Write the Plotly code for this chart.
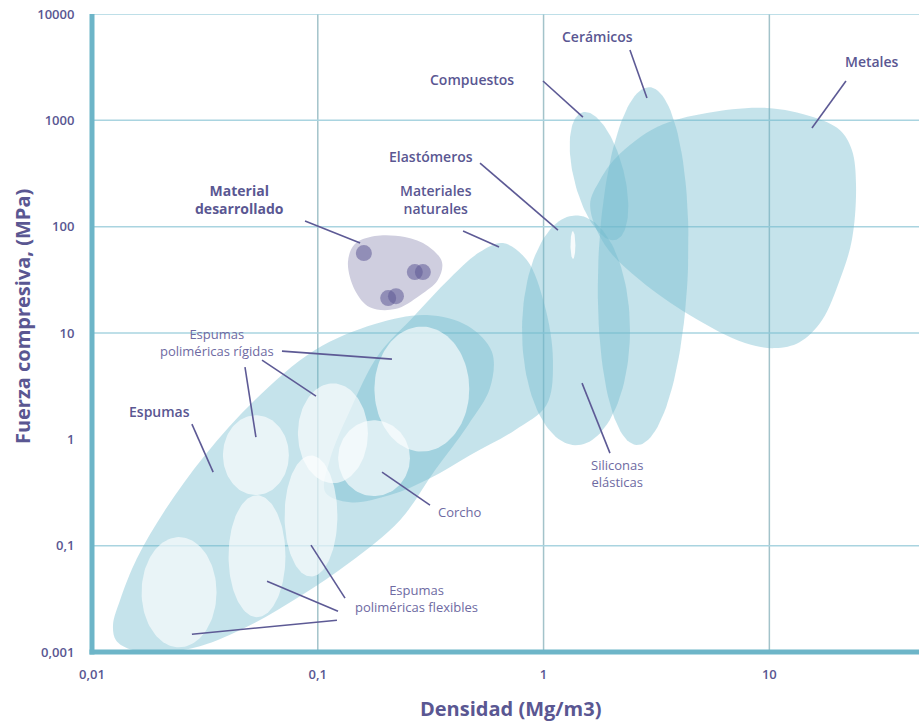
import numpy as np
import plotly.graph_objects as go

# ---------------- axes ----------------
X_RANGE = [0.01, 46]
Y_RANGE = [0.01, 10000]
x_tickvals = [0.01, 0.1, 1, 10]
x_ticktext = ["0,01", "0,1", "1", "10"]
y_tickvals = [0.01, 0.1, 1, 10, 100, 1000, 10000]
y_ticktext = ["0,001", "0,1", "1", "10", "100", "1000", "10000"]
x_grid = [0.1, 1, 10]
y_grid = [0.1, 10, 100, 1000, 10000]

# ---------------- material families drawn as ellipses ----------------
# centre density (Mg/m3), centre strength (MPa), semi-axes (decades), tilt (deg)
fam_names = ["Elastómeros", "Cerámicos", "Compuestos"]
fam_dens = [1.392, 2.76, 1.76]
fam_str = [10.6, 42.6, 299]
fam_a = [0.239, 0.199, 0.111]
fam_b = [0.509, 0.793, 0.292]
fam_ang = [0, -2, 14.4]

# sub-groups (foams, cork) shown as pale ellipses
sub_names = ["flex1", "flex2", "flex3", "rig1", "rig2", "rig3", "Corcho", "elast"]
sub_dens = [0.0243, 0.0538, 0.0933, 0.0532, 0.1167, 0.289, 0.1775, 1.349]
sub_str = [0.0365, 0.0796, 0.190, 0.710, 1.14, 2.97, 0.665, 67.1]
sub_a = [0.166, 0.126, 0.117, 0.146, 0.155, 0.210, 0.159, 0.011]
sub_b = [0.244, 0.270, 0.268, 0.177, 0.221, 0.277, 0.168, 0.062]

# ---------------- irregular envelopes ----------------
foam_dens = [0.01239, 0.01331, 0.01582, 0.02105, 0.03165, 0.05270, 0.09718, 0.1792,
             0.3046, 0.4626, 0.5909, 0.5789, 0.4626, 0.3304, 0.2312, 0.1389, 0.08342,
             0.05008, 0.03008, 0.02001, 0.01473, 0.01277]
foam_str = [0.01786, 0.03071, 0.07627, 0.2158, 0.7101, 2.338, 6.902, 12.13,
            14.74, 11.61, 6.611, 3.032, 1.360, 0.5131, 0.1738, 0.06995, 0.03348,
            0.01786, 0.01134, 0.009957, 0.01062, 0.01291]

nat_dens = [0.661, 0.843, 1.01, 1.10, 1.03, 0.746, 0.472, 0.314, 0.209, 0.139,
            0.108, 0.113, 0.139, 0.185, 0.264, 0.385, 0.522]
nat_str = [70.1, 48.5, 18.3, 5.56, 2.10, 1.22, 0.710, 0.431, 0.299, 0.256,
           0.318, 0.637, 1.88, 6.19, 14.1, 32.8, 57.7]

met_dens = [1.607, 1.778, 2.11, 3.18, 5.29, 9.75, 15.6, 20.5, 23.2, 24.2,
            23.2, 20.5, 17.1, 13.6, 10.6, 7.80, 4.45, 2.67, 1.87]
met_str = [160, 274, 452, 865, 1172, 1306, 1074, 811, 526, 246,
           74.8, 31.5, 13.2, 8.20, 7.21, 8.04, 14.7, 31.5, 67.1]

dev_dens = [0.136, 0.146, 0.179, 0.243, 0.308, 0.355, 0.340, 0.284, 0.220, 0.170, 0.146]
dev_str = [46.4, 68.6, 81.6, 79.8, 65.6, 46.4, 31.5, 22.7, 16.8, 17.5, 25.3]

# developed-material samples
sample_dens = [0.160, 0.269, 0.292, 0.205, 0.222]
sample_str = [56.4, 37.4, 37.4, 21.3, 22.2]

# ---------------- labels ----------------
bold_labels = ["Material<br>desarrollado", "Materiales<br>naturales", "Elastómeros",
               "Compuestos", "Cerámicos", "Metales", "Espumas"]
bold_weight = [700, 600, 600, 600, 600, 600, 600]
bold_dens = [0.0448, 0.334, 0.317, 0.482, 1.74, 28.5, 0.0200]
bold_str = [180, 180, 461, 2446, 6078, 3611, 1.84]

light_labels = ["Espumas<br>poliméricas rígidas", "Corcho", "Siliconas<br>elásticas",
                "Espumas<br>poliméricas flexibles"]
light_dens = [0.0358, 0.427, 2.11, 0.275]
light_str = [8.21, 0.207, 0.481, 0.0321]

# leader lines: start / end
lead_x0 = [0.0878, 0.440, 0.523, 0.994, 2.413, 21.84, 0.0277, 0.0694, 0.0566, 0.0476,
           0.1925, 1.480, 0.132, 0.1229, 0.1216]
lead_y0 = [112.9, 90.9, 396.6, 2342, 4584, 2342, 1.390, 6.754, 5.560, 4.777,
           0.4913, 3.379, 0.0321, 0.0242, 0.0199]
lead_x1 = [0.154, 0.635, 1.158, 1.494, 2.870, 15.44, 0.0344, 0.213, 0.0982, 0.0532,
           0.314, 1.968, 0.0933, 0.0596, 0.0277]
lead_y1 = [70.1, 64.3, 92.9, 1074, 1621, 846.5, 0.491, 5.681, 2.549, 1.049,
           0.2404, 0.7417, 0.1011, 0.0463, 0.0147]

# ---------------- styling ----------------
W, H = 919, 722
MARGIN = dict(l=92, r=0, t=14, b=70)
FONT = "Open Sans"
TXT = "#5a5792"
TXT_LIGHT = "#6e6aa2"
TEAL = "rgba(110,185,205,0.40)"
PALE = "rgba(255,255,255,0.62)"
AXIS = "#6db5c8"

xr = [np.log10(v) for v in X_RANGE]
yr = [np.log10(v) for v in Y_RANGE]
px_dec_x = (W - MARGIN["l"] - MARGIN["r"]) / (xr[1] - xr[0])
px_dec_y = (H - MARGIN["t"] - MARGIN["b"]) / (yr[1] - yr[0])
ASPECT = px_dec_x / px_dec_y


def ellipse(cx, cy, a, b, ang, n=120):
    t = np.linspace(0, 2 * np.pi, n)
    th = np.radians(ang)
    u = a * np.cos(t)
    v = b * np.sin(t)
    dx = u * np.cos(th) - v * np.sin(th)
    dy = u * np.sin(th) + v * np.cos(th)
    return 10 ** (np.log10(cx) + dx), 10 ** (np.log10(cy) + dy * ASPECT)


def area(x, y, color, spline=False):
    x = list(x) + [x[0]]
    y = list(y) + [y[0]]
    return go.Scatter(x=x, y=y, mode="lines", fill="toself", fillcolor=color,
                      line=dict(width=0, color="rgba(0,0,0,0)",
                                shape="spline" if spline else "linear", smoothing=1.0),
                      hoverinfo="skip", showlegend=False)


fig = go.Figure()

# teal families
fig.add_trace(area(foam_dens, foam_str, TEAL, spline=True))
for i in range(len(fam_names)):
    ex, ey = ellipse(fam_dens[i], fam_str[i], fam_a[i], fam_b[i], fam_ang[i])
    fig.add_trace(area(ex, ey, TEAL))
fig.add_trace(area(nat_dens, nat_str, TEAL, spline=True))
fig.add_trace(area(met_dens, met_str, TEAL, spline=True))

# pale sub-groups
for i in range(len(sub_names)):
    ex, ey = ellipse(sub_dens[i], sub_str[i], sub_a[i], sub_b[i], 0)
    fig.add_trace(area(ex, ey, "rgba(255,255,255,0.85)" if sub_names[i] == "elast" else PALE))

# developed material
fig.add_trace(area(dev_dens, dev_str, "#cfcedf", spline=True))
fig.add_trace(go.Scatter(x=sample_dens, y=sample_str, mode="markers",
                         marker=dict(size=16, color="rgba(95,90,150,0.55)", line=dict(width=0)),
                         hoverinfo="skip", showlegend=False))

# leader lines
lx, ly = [], []
for i in range(len(lead_x0)):
    lx += [lead_x0[i], lead_x1[i], None]
    ly += [lead_y0[i], lead_y1[i], None]
fig.add_trace(go.Scatter(x=lx, y=ly, mode="lines", line=dict(color="#5d5a95", width=1.6),
                         hoverinfo="skip", showlegend=False))

annotations = []
for t, w, x, y in zip(bold_labels, bold_weight, bold_dens, bold_str):
    annotations.append(dict(x=np.log10(x), y=np.log10(y), xref="x", yref="y", text=t,
                            showarrow=False, align="center", xanchor="center", yanchor="middle",
                            font=dict(family=FONT, size=14, color=TXT, weight=w)))
for t, x, y in zip(light_labels, light_dens, light_str):
    annotations.append(dict(x=np.log10(x), y=np.log10(y), xref="x", yref="y", text=t,
                            showarrow=False, align="center", xanchor="center", yanchor="middle",
                            font=dict(family=FONT, size=13, color=TXT_LIGHT, weight=400)))
annotations.append(dict(x=0.5066, y=-0.088, xref="paper", yref="paper",
                        xanchor="center", yanchor="middle",
                        text="Densidad (Mg/m3)", showarrow=False,
                        font=dict(family=FONT, size=20, color=TXT, weight=700)))
annotations.append(dict(x=-0.0846, y=0.525, xref="paper", yref="paper", textangle=-90,
                        xanchor="center", yanchor="middle",
                        text="Fuerza compresiva, (MPa)", showarrow=False,
                        font=dict(family=FONT, size=20, color=TXT, weight=700)))

shapes = []
for g in x_grid:
    shapes.append(dict(type="line", xref="x", yref="paper", x0=g, x1=g, y0=0, y1=1,
                       line=dict(color="#a3c3ca", width=1.5), layer="below"))
for g in y_grid:
    shapes.append(dict(type="line", xref="paper", yref="y", x0=0, x1=1, y0=g, y1=g,
                       line=dict(color="#a9d4e0", width=1.5), layer="below"))
shapes.append(dict(type="line", xref="paper", yref="paper", x0=0, x1=0, y0=-0.004, y1=1,
                   line=dict(color=AXIS, width=5), layer="above"))
shapes.append(dict(type="line", xref="paper", yref="paper", x0=-0.003, x1=1, y0=0, y1=0,
                   line=dict(color=AXIS, width=5), layer="above"))

tickfont = dict(family=FONT, size=13, color=TXT, weight=600)
fig.update_layout(
    width=W, height=H, margin=MARGIN,
    paper_bgcolor="white", plot_bgcolor="white",
    showlegend=False, hovermode=False,
    annotations=annotations, shapes=shapes,
    xaxis=dict(type="log", range=xr, tickvals=x_tickvals, ticktext=x_ticktext,
               showgrid=False, zeroline=False, showline=False, ticks="outside",
               ticklen=10, tickcolor="rgba(0,0,0,0)", tickfont=tickfont),
    yaxis=dict(type="log", range=yr, tickvals=y_tickvals, ticktext=y_ticktext,
               showgrid=False, zeroline=False, showline=False, ticks="outside",
               ticklen=14, tickcolor="rgba(0,0,0,0)", tickfont=tickfont),
)

fig.write_html("out.html")
